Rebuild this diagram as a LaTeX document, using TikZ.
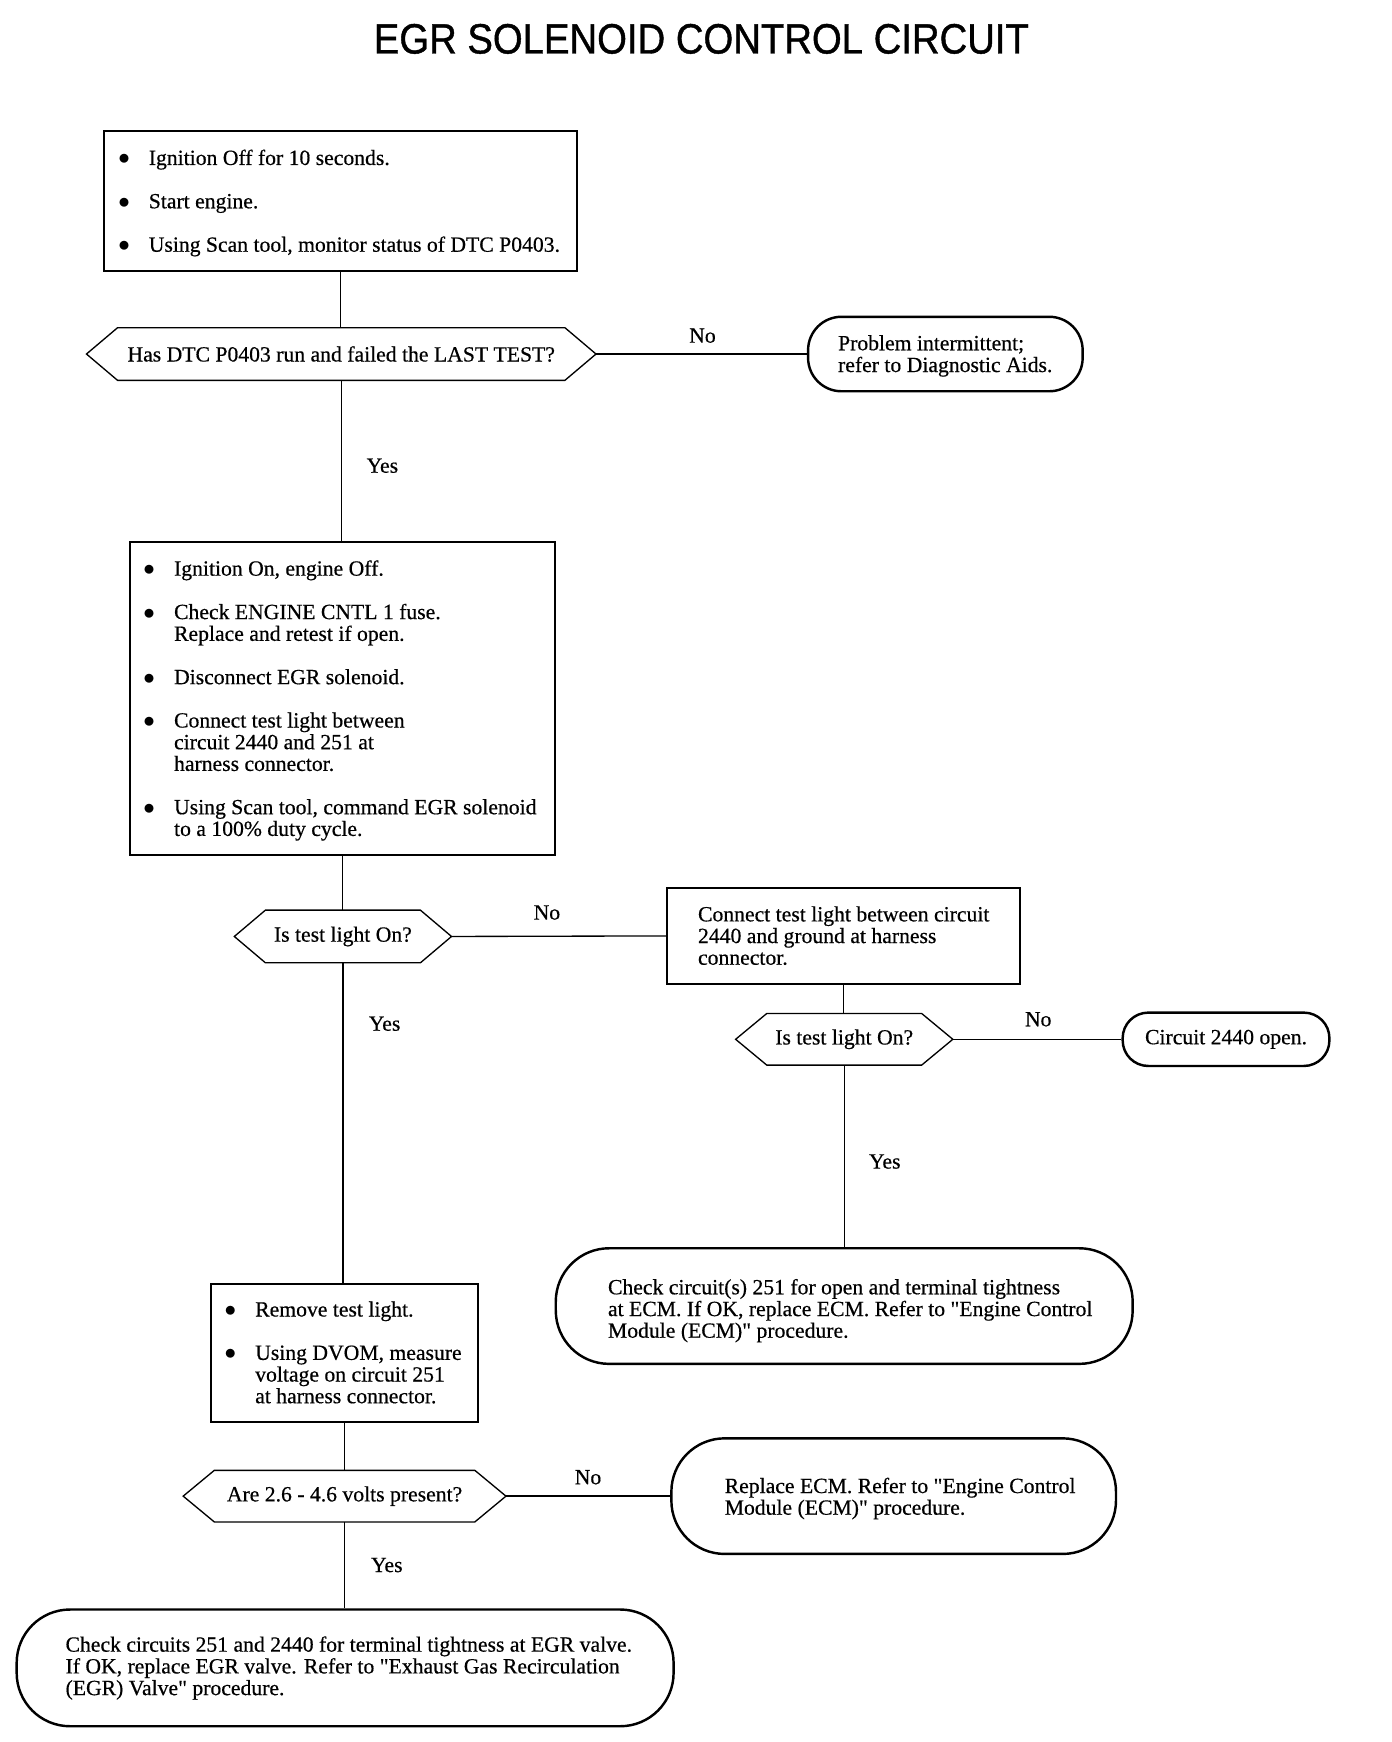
\documentclass[tikz,border=0pt]{standalone}
\usepackage{fontspec}
\newfontfamily\bodyfamily[FakeBold=0.5]{Liberation Serif}
\newfontfamily\titlefamily[FakeBold=1]{Liberation Sans}
\newcommand\bodyfnt{\bodyfamily\fontsize{19.5pt}{19.5pt}\selectfont}
\newcommand\titlefnt{\titlefamily\fontsize{34pt}{38pt}\selectfont}
\newcommand\itemgap{\\[19.5pt]}
\newcommand\bul{$\bullet$}
\newcommand\drawhex[1]{\draw[hexline] (#1.west) -- ([xshift=28pt]#1.north west) -- ([xshift=-28pt]#1.north east) -- (#1.east) -- ([xshift=-28pt]#1.south east) -- ([xshift=28pt]#1.south west) -- cycle;}
\newcommand\blist[4][-2.5pt]{\raisebox{#1}[\height][\depth]{\makebox[#2][l]{\begin{tabular}{@{}l@{\hspace{#3}}l@{}}#4\end{tabular}}}}
\newcommand\llist[3][-2.5pt]{\raisebox{#1}[\height][\depth]{\makebox[#2][l]{\begin{tabular}{@{}l@{}}#3\end{tabular}}}}
\begin{document}
\begin{tikzpicture}[x=1pt,y=-1pt,
  base/.style={font=\bodyfnt, inner sep=0pt},
  boxn/.style={base, draw, line width=1.8pt, rectangle},
  hexn/.style={base, rectangle, draw=none},
  termn/.style={base, draw, line width=2.2pt, rectangle},
  hexline/.style={line width=1.2pt},
  conn/.style={line width=1.2pt},
  lbl/.style={base}]
\fill[white] (0,0) rectangle (1252.3,1567.2);
\useasboundingbox (0,0) rectangle (1252.3,1567.2);

\node[font=\titlefnt, inner sep=0pt] (title) at (631,35) {\scalebox{1.013}[1.12]{EGR SOLENOID CONTROL CIRCUIT}};

\node[boxn, minimum width=425, minimum height=126] (b1) at (306.5,181)
  {\blist{400pt}{17pt}{\bul & Ignition Off for 10 seconds.\itemgap
   \bul & Start engine.\itemgap
   \bul & Using Scan tool, monitor status of DTC P0403.}};

\node[hexn, minimum width=458, minimum height=47] (d1) at (307,318.5) {Has DTC P0403 run and failed the LAST TEST?};
\drawhex{d1}

\node[termn, minimum width=247, minimum height=67, rounded corners=30pt] (t1) at (850.5,318.5)
  {\llist{193pt}{Problem intermittent;\\refer to Diagnostic Aids.}};

\node[boxn, minimum width=382, minimum height=281] (b2) at (308,628.5)
  {\blist{358pt}{17.25pt}{\bul & Ignition On, engine Off.\itemgap
   \bul & Check ENGINE CNTL 1 fuse.\\
    & Replace and retest if open.\itemgap
   \bul & Disconnect EGR solenoid.\itemgap
   \bul & Connect test light between\\
    & circuit 2440 and 251 at\\
    & harness connector.\itemgap
   \bul & Using Scan tool, command EGR solenoid\\
    & to a 100\% duty cycle.}};

\node[hexn, minimum width=195, minimum height=47] (d2) at (308.5,842.5) {Is test light On?};
\drawhex{d2}

\node[boxn, minimum width=318, minimum height=86] (b3) at (759,842)
  {\llist{262pt}{Connect test light between circuit\\2440 and ground at harness\\connector.}};

\node[hexn, minimum width=195, minimum height=46] (d3) at (759.5,935) {Is test light On?};
\drawhex{d3}

\node[termn, minimum width=186, minimum height=48, rounded corners=23pt] (t3) at (1103,935) {Circuit 2440 open.};

\node[termn, minimum width=519, minimum height=104, rounded corners=48pt] (t4) at (759.5,1175)
  {\llist[-5pt]{425pt}{Check circuit(s) 251 for open and terminal tightness\\at ECM. If OK, replace ECM. Refer to "Engine Control\\Module (ECM)" procedure.}};

\node[boxn, minimum width=240, minimum height=124] (b4) at (310,1217)
  {\blist{216pt}{17.25pt}{\bul & Remove test light.\itemgap
   \bul & Using DVOM, measure\\
    & voltage on circuit 251\\
    & at harness connector.}};

\node[hexn, minimum width=290, minimum height=46] (d4) at (310,1346) {Are 2.6 - 4.6 volts present?};
\drawhex{d4}

\node[termn, minimum width=400, minimum height=104, rounded corners=48pt] (t5) at (804,1346)
  {\llist[-3pt]{304pt}{Replace ECM. Refer to "Engine Control\\Module (ECM)" procedure.}};

\node[termn, minimum width=591, minimum height=105, rounded corners=48pt] (t6) at (310.5,1500.5)
  {\llist[-1pt]{503pt}{Check circuits 251 and 2440 for terminal tightness at EGR valve.\\If OK, replace EGR valve. Refer to "Exhaust Gas Recirculation\\(EGR) Valve" procedure.}};

% connectors
\draw[conn] (b1.south) -- (b1.south |- d1.north);
\draw[conn] (d1.east) -- (t1.west);
\draw[conn] (d1.south) -- (d1.south |- b2.north);
\draw[conn] (b2.south) -- (b2.south |- d2.north);
\draw[conn] (d2.east) -- (b3.west);
\draw[conn] (b3.south) -- (b3.south |- d3.north);
\draw[conn] (d3.east) -- (t3.west);
\draw[conn] (d3.south) -- (d3.south |- t4.north);
\draw[conn] (d2.south) -- (d2.south |- b4.north);
\draw[conn] (b4.south) -- (b4.south |- d4.north);
\draw[conn] (d4.east) -- (t5.west);
\draw[conn] (d4.south) -- (d4.south |- t6.north);

% labels
\node[lbl] (no1) at (632,302) {No};
\node[lbl] (yes1) at (344,419) {Yes};
\node[lbl] (no2) at (492,821) {No};
\node[lbl] (yes2) at (346,921) {Yes};
\node[lbl] (no3) at (934,917) {No};
\node[lbl] (yes3) at (796,1045) {Yes};
\node[lbl] (no4) at (529,1329) {No};
\node[lbl] (yes4) at (348,1408) {Yes};
\end{tikzpicture}
\end{document}
